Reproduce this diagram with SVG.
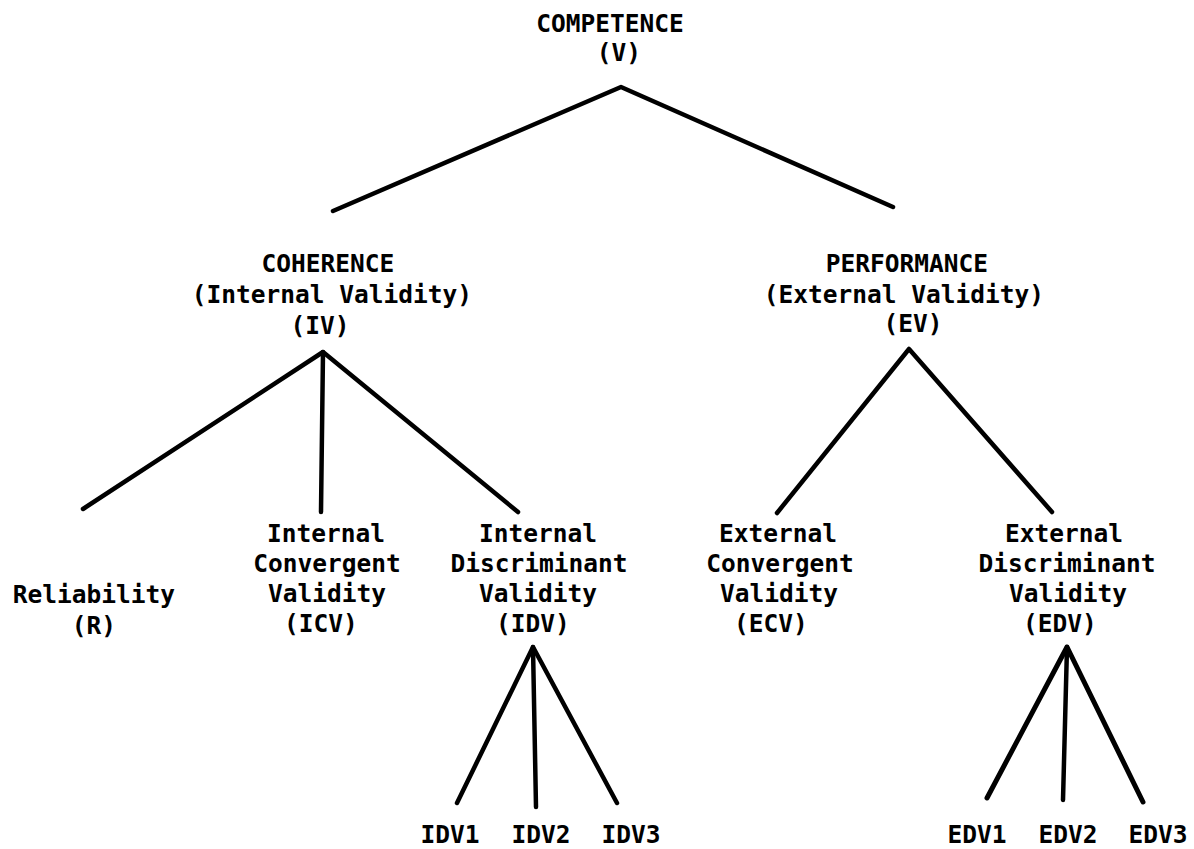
<svg xmlns="http://www.w3.org/2000/svg" width="1194" height="849" viewBox="0 0 1194 849">
<style>
text{font-family:"DejaVu Sans Mono","Liberation Mono",monospace;font-weight:bold;font-size:24.5px;fill:#000;text-anchor:middle}
.c{fill:none;stroke:#000;stroke-width:4.5;stroke-linecap:round;stroke-linejoin:round}
</style>
<rect width="1194" height="849" fill="#fff"/>
<g id="connectors">
<polyline class="c" points="333,211 621,87 893,207"/>
<polyline class="c" points="83,509 323,352 518,512"/>
<line class="c" x1="323" y1="352" x2="321" y2="512"/>
<polyline class="c" points="777,513 909,349 1052,512"/>
<polyline class="c" points="457,803 533,647 617,803"/>
<line class="c" x1="533" y1="647" x2="536" y2="807"/>
<polyline class="c" points="987,798 1067,647 1143,802" style="stroke-width:5"/>
<line class="c" x1="1067" y1="647" x2="1063" y2="800"/>
</g>
<g id="V"><text x="610" y="32">COMPETENCE</text><text x="619" y="61">(V)</text></g>
<g id="IV"><text x="328" y="272">COHERENCE</text><text x="332" y="303">(Internal Validity)</text><text x="320" y="334">(IV)</text></g>
<g id="EV"><text x="907" y="272">PERFORMANCE</text><text x="904" y="303">(External Validity)</text><text x="913" y="332">(EV)</text></g>
<g id="R"><text x="94" y="603">Reliability</text><text x="94" y="634">(R)</text></g>
<g id="ICV"><text x="326" y="542">Internal</text><text x="327" y="572">Convergent</text><text x="327" y="602">Validity</text><text x="321" y="632">(ICV)</text></g>
<g id="IDV"><text x="538" y="542">Internal</text><text x="539" y="572">Discriminant</text><text x="538" y="602">Validity</text><text x="533" y="632">(IDV)</text></g>
<g id="ECV"><text x="778" y="542">External</text><text x="780" y="572">Convergent</text><text x="779" y="602">Validity</text><text x="771" y="632">(ECV)</text></g>
<g id="EDV"><text x="1064" y="542">External</text><text x="1067" y="572">Discriminant</text><text x="1068" y="602">Validity</text><text x="1060" y="632">(EDV)</text></g>
<g id="IDV1"><text x="450" y="843">IDV1</text></g>
<g id="IDV2"><text x="541" y="843">IDV2</text></g>
<g id="IDV3"><text x="631" y="843">IDV3</text></g>
<g id="EDV1"><text x="977" y="843">EDV1</text></g>
<g id="EDV2"><text x="1068" y="843">EDV2</text></g>
<g id="EDV3"><text x="1158" y="843">EDV3</text></g>
</svg>
